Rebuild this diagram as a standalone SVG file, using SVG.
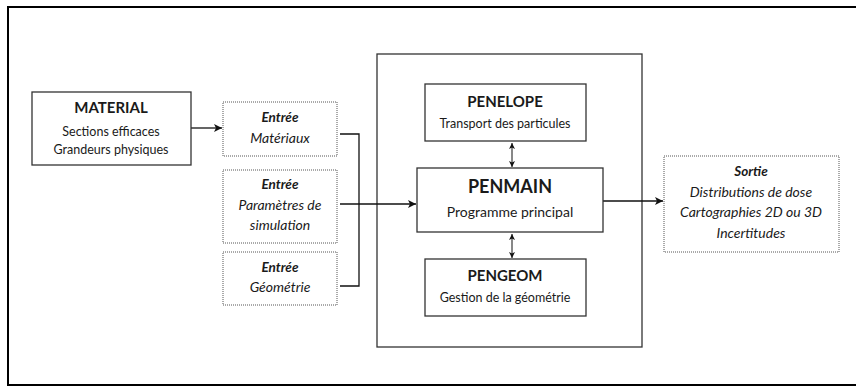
<svg xmlns="http://www.w3.org/2000/svg" width="856" height="388" viewBox="0 0 856 388">
<defs>
<style>
text{font-family:Lato,"Open Sans","Liberation Sans",sans-serif;fill:#1a1a1a;text-anchor:middle}
.t{font-weight:bold;font-size:15px}
.b{font-size:12.5px}
.i{font-style:italic;font-size:14px}
.ib{font-style:italic;font-weight:bold;font-size:13.5px}
.solid{fill:#fff;stroke:#333;stroke-width:1.3}
.dot{fill:#fff;stroke:#555;stroke-width:1;stroke-dasharray:1 1}
.ln{fill:none;stroke:#111;stroke-width:1.3}
.thin{fill:none;stroke:#111;stroke-width:1}
</style>
<marker id="ah" viewBox="0 0 10 10" refX="10" refY="5" markerWidth="8" markerHeight="8" markerUnits="userSpaceOnUse" orient="auto"><path d="M0,0 L10,5 L0,10 L2.5,5 z" fill="#111"/></marker>
<marker id="ahs" viewBox="0 0 10 10" refX="10" refY="5" markerWidth="6" markerHeight="6" markerUnits="userSpaceOnUse" orient="auto-start-reverse"><path d="M0,0 L10,5 L0,10 L2.5,5 z" fill="#111"/></marker>
</defs>
<rect width="856" height="388" fill="#fff"/>
<path d="M856,7 H8 V385 H856" fill="none" stroke="#000" stroke-width="2"/>
<g id="container"><rect x="377" y="54" width="265" height="293" fill="none" stroke="#333" stroke-width="1.3"/></g>
<g id="connectors">
<path class="ln" d="M191,128 H222" marker-end="url(#ah)"/>
<path class="ln" d="M340,134 H359 V286 H340"/>
<path class="ln" d="M340,204 H416" marker-end="url(#ah)"/>
<path class="ln" d="M603,201 H663" marker-end="url(#ah)"/>
<path class="thin" d="M512,143 V167" marker-start="url(#ahs)" marker-end="url(#ahs)"/>
<path class="thin" d="M512,234 V258" marker-start="url(#ahs)" marker-end="url(#ahs)"/>
</g>
<g id="material"><rect class="solid" x="32" y="92" width="159" height="73"/>
<text class="t" x="111" y="113">MATERIAL</text>
<text class="b" x="111" y="136">Sections efficaces</text>
<text class="b" x="111" y="154">Grandeurs physiques</text></g>
<g id="entree-materiaux"><rect class="dot" x="223" y="102" width="114" height="54"/>
<text class="ib" x="280" y="122">Entrée</text>
<text class="i" x="280" y="143">Matériaux</text></g>
<g id="entree-parametres"><rect class="dot" x="223" y="170" width="114" height="73"/>
<text class="ib" x="280" y="189">Entrée</text>
<text class="i" x="280" y="210">Paramètres de</text>
<text class="i" x="280" y="230">simulation</text></g>
<g id="entree-geometrie"><rect class="dot" x="223" y="252" width="114" height="53"/>
<text class="ib" x="280" y="272">Entrée</text>
<text class="i" x="280" y="292">Géométrie</text></g>
<g id="penelope"><rect class="solid" x="425" y="84" width="161" height="57"/>
<text class="t" x="505" y="107">PENELOPE</text>
<text class="b" x="505" y="128">Transport des particules</text></g>
<g id="penmain"><rect class="solid" x="417" y="168" width="186" height="64"/>
<text class="t" x="510" y="193" style="font-size:18px">PENMAIN</text>
<text class="b" x="510" y="217" style="font-size:14px">Programme principal</text></g>
<g id="pengeom"><rect class="solid" x="425" y="259" width="161" height="57"/>
<text class="t" x="505" y="281">PENGEOM</text>
<text class="b" x="505" y="302">Gestion de la géométrie</text></g>
<g id="sortie"><rect class="dot" x="664" y="156" width="175" height="96"/>
<text class="ib" x="751" y="176">Sortie</text>
<text class="i" x="751" y="197">Distributions de dose</text>
<text class="i" x="751" y="217">Cartographies 2D ou 3D</text>
<text class="i" x="751" y="238">Incertitudes</text></g>
</svg>
